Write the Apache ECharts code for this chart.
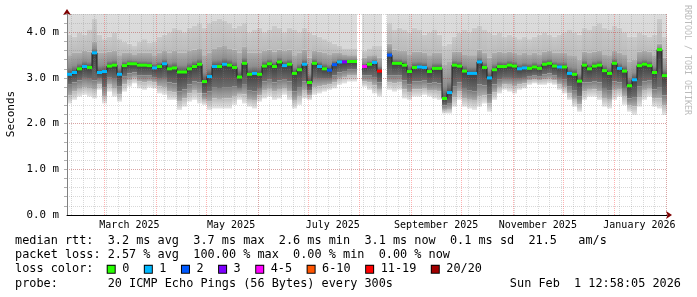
<!DOCTYPE html>
<html><head><meta charset="utf-8">
<script src="https://cdn.jsdelivr.net/npm/echarts@6/dist/echarts.min.js"></script>
<style>html,body{margin:0;padding:0;background:#fff}#c{width:697px;height:297px}</style>
</head><body><div id="c"></div>
<script>
// ---- data (values in ms, one sample per 3 days) ----
const MEDIAN = [3.08,3.12,3.20,3.25,3.23,3.55,3.12,3.14,3.26,3.28,
 3.08,3.27,3.31,3.31,3.28,3.28,3.27,3.22,3.25,3.31,
 3.20,3.22,3.13,3.13,3.20,3.25,3.30,2.92,3.03,3.25,
 3.25,3.30,3.28,3.23,3.02,3.32,3.08,3.10,3.08,3.26,
 3.31,3.25,3.35,3.27,3.30,3.10,3.18,3.30,2.90,3.32,
 3.25,3.20,3.17,3.29,3.35,3.35,3.36,3.36,null,3.25,
 3.30,3.34,3.15,null,3.50,3.32,3.32,3.28,3.14,3.23,
 3.24,3.23,3.14,3.21,3.21,2.55,2.68,3.28,3.26,3.15,
 3.10,3.10,3.35,3.23,3.00,3.18,3.25,3.25,3.28,3.26,
 3.20,3.22,3.21,3.24,3.21,3.30,3.32,3.26,3.24,3.24,
 3.10,3.08,2.93,3.28,3.20,3.26,3.28,3.16,3.10,3.32,
 3.21,3.15,2.83,2.96,3.27,3.30,3.27,3.12,3.62,3.05];
const LOSS = [1,1,0,1,0,1,1,1,0,0,
 1,0,0,0,0,0,0,1,0,1,
 0,0,0,0,0,0,0,0,1,1,
 0,1,0,0,0,0,0,1,0,0,
 0,0,0,1,0,0,0,1,0,0,
 1,0,2,2,1,3,0,0,null,4,
 0,1,6,null,2,0,0,0,0,0,
 1,1,0,0,0,0,1,0,0,0,
 1,1,1,0,1,0,0,0,0,0,
 1,1,0,0,0,0,0,0,1,0,
 1,0,0,0,0,0,0,0,0,0,
 1,0,0,1,0,0,0,0,0,0];
// smoke band limits
const LOW1 = [2.44,2.52,2.59,2.63,2.59,2.55,2.74,2.44,2.70,2.59,
 2.48,2.70,2.81,2.88,2.77,2.74,2.79,2.77,2.66,2.63,
 2.52,2.52,2.30,2.37,2.48,2.52,2.44,2.41,2.30,2.33,
 2.33,2.33,2.33,2.41,2.52,2.44,2.37,2.33,2.48,2.55,
 2.59,2.52,2.55,2.63,2.52,2.33,2.41,2.55,2.52,2.63,
 2.66,2.70,2.74,2.77,2.85,2.88,2.92,2.92,null,2.81,
 2.74,2.66,2.59,null,2.74,2.70,2.74,2.55,2.52,2.59,
 2.59,2.63,2.59,2.55,2.52,2.22,2.22,2.37,2.52,2.37,
 2.33,2.30,2.37,2.44,2.26,2.52,2.66,2.74,2.70,2.66,
 2.74,2.77,2.85,2.88,2.85,2.85,2.88,2.85,2.74,2.66,
 2.52,2.37,2.26,2.52,2.59,2.59,2.52,2.37,2.33,2.52,
 2.59,2.41,2.26,2.19,2.37,2.52,2.59,2.37,2.33,2.19];
const LOW2 = [2.62,2.70,2.76,2.80,2.78,2.74,2.86,2.60,2.85,2.78,
 2.64,2.86,2.95,3.00,2.92,2.90,2.93,2.90,2.82,2.80,
 2.70,2.68,2.48,2.55,2.66,2.72,2.66,2.52,2.48,2.55,
 2.54,2.55,2.55,2.60,2.65,2.64,2.52,2.50,2.62,2.72,
 2.76,2.70,2.74,2.78,2.70,2.50,2.60,2.72,2.62,2.80,
 2.82,2.84,2.86,2.90,2.98,3.02,3.05,3.05,null,2.92,
 2.90,2.84,2.74,null,2.90,2.88,2.90,2.75,2.68,2.75,
 2.75,2.78,2.72,2.72,2.70,2.30,2.32,2.58,2.70,2.56,
 2.52,2.50,2.60,2.62,2.44,2.68,2.80,2.86,2.85,2.82,
 2.86,2.88,2.94,2.96,2.94,2.96,2.98,2.95,2.86,2.80,
 2.66,2.54,2.42,2.70,2.74,2.75,2.70,2.56,2.52,2.72,
 2.74,2.60,2.40,2.38,2.58,2.72,2.76,2.55,2.55,2.40];
const LOW3 = [2.85,2.90,2.95,3.00,2.98,2.95,2.98,2.80,3.02,2.98,
 2.82,3.04,3.10,3.12,3.06,3.05,3.06,3.02,2.98,3.00,
 2.90,2.88,2.70,2.75,2.86,2.92,2.90,2.66,2.70,2.80,
 2.78,2.80,2.80,2.82,2.78,2.85,2.72,2.70,2.78,2.92,
 2.96,2.90,2.95,2.96,2.92,2.70,2.80,2.92,2.72,3.00,
 2.98,2.98,2.98,3.05,3.12,3.15,3.18,3.18,null,3.05,
 3.05,3.02,2.90,null,3.05,3.05,3.06,2.95,2.86,2.92,
 2.92,2.94,2.88,2.90,2.88,2.40,2.45,2.82,2.90,2.78,
 2.72,2.70,2.86,2.84,2.64,2.86,2.96,3.00,3.00,2.98,
 2.98,3.00,3.04,3.06,3.04,3.08,3.10,3.06,3.00,2.96,
 2.82,2.72,2.60,2.90,2.90,2.92,2.90,2.78,2.72,2.92,
 2.90,2.78,2.55,2.58,2.82,2.92,2.94,2.75,2.80,2.62];
const HIGH2 = [3.50,3.55,3.55,3.60,3.58,3.80,3.55,3.55,3.58,3.60,
 3.50,3.55,3.55,3.52,3.55,3.55,3.55,3.50,3.55,3.60,
 3.55,3.60,3.55,3.55,3.60,3.62,3.65,3.50,3.55,3.65,
 3.68,3.70,3.65,3.62,3.55,3.68,3.55,3.55,3.55,3.60,
 3.62,3.58,3.62,3.60,3.62,3.50,3.55,3.62,3.45,3.60,
 3.58,3.55,3.52,3.55,3.55,3.52,3.50,3.50,null,3.45,
 3.48,3.50,3.45,null,3.75,3.62,3.60,3.60,3.52,3.58,
 3.58,3.56,3.50,3.55,3.55,3.30,3.35,3.58,3.58,3.52,
 3.50,3.50,3.62,3.55,3.45,3.55,3.58,3.55,3.58,3.55,
 3.52,3.55,3.52,3.55,3.52,3.58,3.60,3.55,3.55,3.55,
 3.50,3.48,3.40,3.58,3.55,3.58,3.60,3.52,3.50,3.60,
 3.55,3.52,3.35,3.40,3.58,3.60,3.58,3.50,3.75,3.45];
const HIGH1 = [3.95,3.90,4.00,3.95,4.05,4.30,3.95,3.85,3.90,4.00,
 3.85,3.80,3.75,3.70,3.80,3.85,3.78,3.80,3.90,3.95,
 4.00,4.10,4.05,4.00,4.10,4.15,4.20,4.10,4.20,4.25,
 4.30,4.25,4.20,4.10,4.15,4.20,4.00,4.05,4.10,4.00,
 4.05,4.15,4.10,4.00,4.10,4.05,4.00,4.10,4.00,3.95,
 3.90,3.85,3.80,3.75,3.70,3.65,3.65,3.65,null,3.60,
 3.65,3.70,3.70,null,4.20,4.05,4.10,4.05,4.00,4.10,
 4.05,3.95,4.00,4.05,3.95,3.70,3.75,3.90,4.00,4.05,
 4.00,4.10,4.15,4.05,4.00,3.95,4.00,3.90,3.95,3.90,
 3.85,3.90,3.85,3.90,3.95,4.00,3.95,3.90,3.95,4.00,
 4.05,4.00,3.95,4.10,4.05,4.15,4.20,4.10,4.05,4.15,
 4.10,4.00,3.90,3.90,4.00,3.95,3.90,3.95,4.30,3.90];
const SMOKE_TOP = 4.4;           // smoke is clipped at the graph top
const Y_MAX = 4.4;
const Y_TICKS = [0, 1, 2, 3, 4];
const X_LABELS = ['March 2025','May 2025','July 2025','September 2025','November 2025','January 2026'];
const X_LABEL_DATES = ['2025-03-16','2025-05-16','2025-07-16','2025-09-16','2025-11-16','2026-01-16'];
const LOSS_NAMES = ['0','1','2','3','4-5','6-10','11-19','20/20'];
const LOSS_COLORS = ['#26ff00','#00b8ff','#0059ff','#7e00ff','#ff00ff','#ff5500','#ff0000','#a10000'];
const STATS_RTT = 'median rtt:  3.2 ms avg  3.7 ms max  2.6 ms min  3.1 ms now  0.1 ms sd  21.5   am/s';
const STATS_LOSS = 'packet loss: 2.57 % avg  100.00 % max  0.00 % min  0.00 % now';
const PROBE = 'probe:       20 ICMP Echo Pings (56 Bytes) every 300s';
const STAMP = 'Sun Feb  1 12:58:05 2026';

// ---- time setup ----
const DAY = 86400000;
const END = Date.UTC(2026, 1, 1, 12, 58, 5);
const START = END - 360 * DAY;
const STEP_MS = 3 * DAY;
const TIMES = MEDIAN.map((_, i) => START + i * STEP_MS);
const MONTH_TS = [];
for (let m = 2; m <= 13; m++) MONTH_TS.push(Date.UTC(2025, m, 1));
const WEEK_TS = [];
for (let t = Date.UTC(2025, 1, 9); t < END; t += 7 * DAY) WEEK_TS.push(t);
const LABEL_TS = X_LABEL_DATES.map(s => Date.parse(s + 'T00:00:00Z'));
const MINOR_Y = [];
for (let k = 1; k <= 22; k++) MINOR_Y.push(Math.round(k * 2) / 10);

const MONO = 'DejaVu Sans Mono';
const grad = (stops) => ({type:'linear', x:0, y:0, x2:0, y2:1, colorStops: stops.map(s => ({offset:s[0], color:s[1]}))});

function renderSmoke(params, api) {
  const i = params.dataIndex;
  if (MEDIAN[i] == null) return null;
  const t = TIMES[i];
  const xa = Math.round(api.coord([t, 0])[0]);
  const xb = Math.round(api.coord([t + STEP_MS, 0])[0]);
  const Y = v => api.coord([t, v])[1];
  const band = (lo, hi, stops) => ({
    type: 'rect',
    shape: {x: xa, y: Y(hi), width: xb - xa, height: Y(lo) - Y(hi)},
    style: {fill: grad(stops)}
  });
  return {type: 'group', children: [
    band(HIGH1[i], SMOKE_TOP, [[0,'#dddddd'],[1,'#d8d8d8']]),
    band(HIGH2[i], HIGH1[i], [[0,'#cbcbcb'],[1,'#bababa']]),
    band(MEDIAN[i], HIGH2[i], [[0,'#adadad'],[0.65,'#8e8e8e'],[1,'#505050']]),
    band(LOW3[i], MEDIAN[i], [[0,'#3e3e3e'],[1,'#6e6e6e']]),
    band(LOW2[i], LOW3[i], [[0,'#7c7c7c'],[1,'#adadad']]),
    band(LOW1[i], LOW2[i], [[0,'#bababa'],[1,'#e6e6e6']])
  ]};
}

function renderLossBars(params, api) {
  const i = params.dataIndex;
  if (MEDIAN[i] == null || LOSS[i] == null) return null;
  const t = TIMES[i];
  const xa = Math.round(api.coord([t, 0])[0]);
  const xb = Math.round(api.coord([t + STEP_MS, 0])[0]);
  const ym = api.coord([t, MEDIAN[i]])[1];
  return {type: 'rect', shape: {x: xa, y: ym - 1.5, width: xb - xa, height: 3},
          style: {fill: LOSS_COLORS[LOSS[i]]}};
}

const lineData = TIMES.map((t, i) => [t, MEDIAN[i]]);
lineData.push([END, MEDIAN[MEDIAN.length - 1]]);

const chart = echarts.init(document.getElementById('c'), null, {renderer: 'canvas'});
const richLegend = {g: {width: 7.5}, g2: {width: 15.5}};
LOSS_COLORS.forEach((c, k) => {
  richLegend['b' + k] = {width: 7, height: 7, backgroundColor: c, borderColor: '#000', borderWidth: 1, verticalAlign: 'middle'};
});
const legendText = 'loss color:  ' + LOSS_NAMES.map((n, k) => '{b' + k + '|}{g|}' + n + '{g2|}').join('');
const textStyle = (s) => ({text: s, fontFamily: MONO, fontSize: 11.85, fill: '#000', verticalAlign: 'middle'});
const MAJOR_GRID = 'rgba(255,0,0,0.30)';
const MINOR_GRID = 'rgba(128,128,128,0.30)';

chart.setOption({
  animation: false,
  backgroundColor: '#ffffff',
  grid: {left: 67, right: 30, top: 14, bottom: 82},
  xAxis: [
    { type: 'value', min: START, max: END, position: 'bottom', z: 3,
      axisLine: {show: true, lineStyle: {color: '#000', width: 1}},
      axisTick: {show: false, customValues: MONTH_TS},
      axisLabel: {customValues: LABEL_TS, margin: 5, fontFamily: MONO, fontSize: 10, color: '#000',
        formatter: v => { let best = 0; LABEL_TS.forEach((t, k) => { if (Math.abs(t - v) < Math.abs(LABEL_TS[best] - v)) best = k; }); return X_LABELS[best]; }},
      splitLine: {show: true, lineStyle: {color: MAJOR_GRID, width: 1, type: [1, 1]}} },
    { type: 'value', min: START, max: END, position: 'bottom', z: 3,
      axisLine: {show: false}, axisLabel: {show: false},
      axisTick: {show: false, customValues: WEEK_TS},
      splitLine: {show: true, lineStyle: {color: MINOR_GRID, width: 1, type: [1, 1]}} },
    { type: 'value', min: START, max: END, position: 'bottom', z: 4,
      axisLine: {show: true, symbol: ['none', 'arrow'], symbolSize: [6, 6], symbolOffset: [0, 5],
        lineStyle: {color: '#7f0000', width: 0}},
      axisTick: {show: false}, axisLabel: {show: false}, splitLine: {show: false} }
  ],
  yAxis: [
    { type: 'value', min: 0, max: Y_MAX, position: 'left', z: 3,
      axisLine: {show: true, lineStyle: {color: '#808080', width: 1}},
      axisTick: {show: false, customValues: Y_TICKS},
      axisLabel: {customValues: Y_TICKS, margin: 8, fontFamily: MONO, fontSize: 10.8, color: '#000',
        formatter: v => v.toFixed(1) + ' m'},
      splitLine: {show: true, lineStyle: {color: MAJOR_GRID, width: 1, type: [1, 1]}} },
    { type: 'value', min: 0, max: Y_MAX, position: 'left', z: 3,
      axisLine: {show: false}, axisLabel: {show: false},
      axisTick: {show: true, customValues: MINOR_Y, length: 3, lineStyle: {color: '#b0b0b0'}},
      splitLine: {show: true, lineStyle: {color: MINOR_GRID, width: 1, type: [1, 1]}} },
    { type: 'value', min: 0, max: Y_MAX, position: 'left', z: 4,
      axisLine: {show: true, symbol: ['none', 'arrow'], symbolSize: [6, 6], symbolOffset: [0, 5],
        lineStyle: {color: '#7f0000', width: 0}},
      axisTick: {show: false}, axisLabel: {show: false}, splitLine: {show: false} }
  ],
  series: [
    { type: 'custom', name: 'smoke', z: 1, silent: true, clip: true,
      renderItem: renderSmoke, data: TIMES.map((t, i) => [t, MEDIAN[i]]), encode: {x: 0, y: 1} },
    { type: 'line', name: 'median', z: 5, silent: true, step: 'end', showSymbol: false, symbol: 'none',
      connectNulls: false, lineStyle: {color: '#202020', width: 1}, data: lineData },
    { type: 'custom', name: 'loss', z: 6, silent: true, clip: true,
      renderItem: renderLossBars, data: TIMES.map((t, i) => [t, MEDIAN[i]]), encode: {x: 0, y: 1} }
  ],
  graphic: [
    {type: 'text', x: 11, y: 114, rotation: Math.PI / 2, silent: true,
     style: {text: 'Seconds', fontFamily: MONO, fontSize: 11, fill: '#000', align: 'center', verticalAlign: 'middle'}},
    {type: 'text', x: 687, y: 5, rotation: -Math.PI / 2, silent: true,
     style: {text: 'RRDTOOL / TOBI OETIKER', fontFamily: MONO, fontSize: 8.3, fill: '#bbbbbb', align: 'left', verticalAlign: 'middle'}},
    {type: 'text', x: 15, y: 241.3, silent: true, style: textStyle(STATS_RTT)},
    {type: 'text', x: 15, y: 255.3, silent: true, style: textStyle(STATS_LOSS)},
    {type: 'text', x: 15, y: 269.3, silent: true, style: Object.assign(textStyle(legendText), {rich: richLegend})},
    {type: 'text', x: 15, y: 283.7, silent: true, style: textStyle(PROBE)},
    {type: 'text', x: 681, y: 283.7, silent: true, style: Object.assign(textStyle(STAMP), {align: 'right'})}
  ]
});
</script></body></html>
